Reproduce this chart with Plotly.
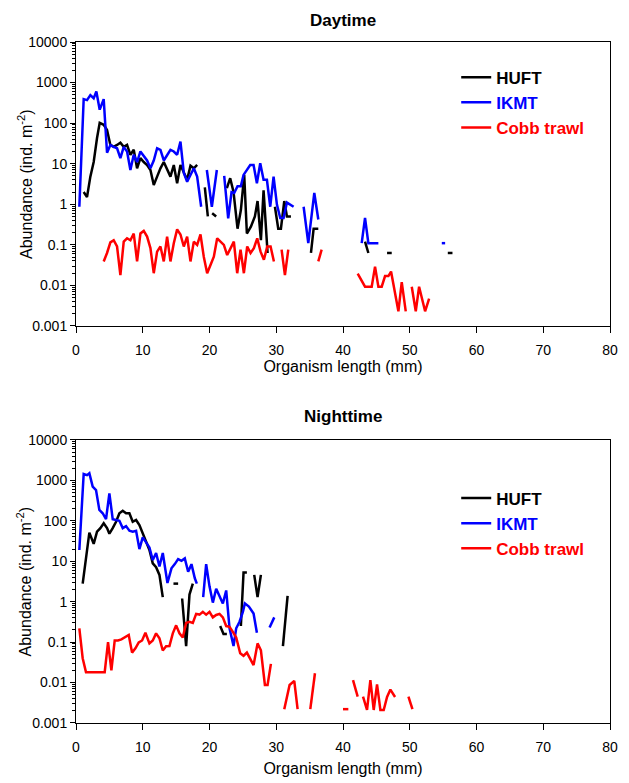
import plotly.graph_objects as go

# ---------------- Daytime data (length mm, abundance ind. m-2); None = gap ----------------
day_huft_x = [1.15, 1.65, 2.15, 2.65, 3.15, 3.55, 4.15, 4.65, 5.15, 5.65, 6.15, 6.65, 7.15, 7.65, 8.15, 8.65,
              9.15, 9.65, 10.15, 10.65, 11.15, 11.65, 12.15, 12.65, 13.15, 13.65, 14.15, 14.65, 15.15, 15.65,
              16.15, 16.65, 17.15, 17.65, 18.15, 18.7,
              19.3, 19.75, 20.1,
              20.4, 21.0, 21.6,
              22.6, 23.1, 23.6, 24.2, 24.7, 25.2, 25.6, 26.2, 26.8, 27.2, 27.7, 28.1, 28.7, 29.2,
              29.8, 30.3, 30.7, 31.2, 31.6, 32.2, 32.7,
              35.2, 35.6, 36.3, 36.8,
              43.3, 43.8, 44.3,
              46.6, 47.3, 47.8,
              55.7, 56.4]
day_huft_y = [2.0, 1.5, 4.8, 11, 43, 102, 91, 68, 29, 26, 29, 33, 26, 29, 16.6, 22,
              7.7, 13.7, 11, 9.3, 7, 3.0, 4.8, 7.7, 11, 7, 4.8, 9.3, 3.3, 9.3,
              5.9, 4.0, 8.9, 7.7, 9.3, None,
              2.6, 0.5, None,
              0.6, 0.5, None,
              2.5, 4.4, 2.0, 0.25, 0.72, 5.3, 0.19, 0.28, 0.5, 1.2, 0.13, 2.2, 0.063, None,
              0.87, 0.25, 0.25, 1.2, 0.5, 0.5, None,
              0.063, 0.25, 0.25, None,
              0.12, 0.063, None,
              0.063, 0.063, None,
              0.063, 0.063]

day_ikmt_x = [0.5, 1.15, 1.65, 2.15, 2.65, 3.05, 3.55, 4.15, 4.65, 5.15, 5.65, 6.15, 6.65, 7.15, 7.65, 8.15,
              8.65, 9.15, 9.65, 10.15, 10.65, 11.15, 11.65, 12.15, 12.65, 13.15, 13.65, 14.15, 14.65, 15.15,
              15.65, 16.15, 16.65, 17.15, 17.65, 18.15, 18.75, 19.2,
              19.6, 20.35, 21.1, 21.7,
              22.2, 22.8, 23.3, 23.7, 24.2, 24.7, 25.1, 25.6, 26.1, 26.6, 27.1, 27.6, 28.1, 28.6, 29.1, 29.6,
              30.1, 30.6, 31.1, 31.6, 32.1, 32.6, 33.3,
              34.1, 34.8, 35.7, 36.3, 36.8,
              42.8, 43.3, 43.8, 44.3, 44.8, 45.3, 45.9,
              54.8, 55.3]
day_ikmt_y = [0.87, 390, 370, 490, 410, 600, 215, 390, 18.6, 29, 26, 24, 13.7, 26, 20, 7,
              16.6, 11, 20, 15, 12, 7.7, 12, 24, 22, 12, 16.6, 22, 20, 16.6,
              35, 5.9, 3.6, 5.3, 7.7, 4.8, 0.87, None,
              7, 0.87, 7, None,
              5, 0.45, 2.0, 1.9, 2.8, 2.8, 5.3, 7, 9.3, 9.3, 3.3, 10.3, 4, 4, 0.87, 4.8,
              0.98, 0.46, 0.46, 1.1, 0.98, 0.87, None,
              0.87, 0.11, 1.9, 0.42, None,
              0.11, 0.46, 0.11, 0.11, 0.11, 0.11, None,
              0.11, 0.11]

day_cobb_x = [4.15, 4.65, 5.15, 5.65, 6.15, 6.65, 7.15, 7.65, 8.15, 8.65, 9.15, 9.65, 10.15, 10.65, 11.15,
              11.65, 12.15, 12.65, 13.15, 13.65, 14.15, 14.65, 15.15, 15.65, 16.15, 16.65, 17.15, 17.65,
              18.15, 18.65, 19.15, 19.65, 20.15, 20.65, 21.15, 21.65, 22.15, 22.65, 23.15, 23.65, 24.15,
              24.65, 25.15, 25.65, 26.15, 26.65, 27.15, 27.65, 28.15, 28.65, 29.15, 29.65, 30.2,
              30.8, 31.3, 31.8, 32.3,
              36.3, 36.8, 37.3,
              42.2, 42.8, 43.3, 43.8, 44.3, 44.8, 45.3, 45.8, 46.3, 46.8, 47.2, 48.3, 48.8, 49.4, 49.9,
              50.3, 50.9, 51.4, 52.3, 52.9]
day_cobb_y = [0.039, 0.063, 0.115, 0.13, 0.091, 0.018, 0.12, 0.145, 0.13, 0.19, 0.039, 0.19, 0.22, 0.16, 0.083,
              0.02, 0.068, 0.091, 0.039, 0.16, 0.039, 0.11, 0.24, 0.18, 0.091, 0.16, 0.039, 0.12,
              0.1, 0.18, 0.05, 0.02, 0.032, 0.051, 0.145, 0.12, 0.1, 0.056, 0.083, 0.12, 0.02,
              0.076, 0.02, 0.091, 0.063, 0.083, 0.145, 0.068, 0.043, 0.091, 0.091, 0.039, None,
              0.076, 0.018, 0.076, None,
              0.039, 0.076, None,
              0.0195, 0.0126, 0.0093, 0.0093, 0.0093, 0.029, 0.0093, 0.0093, 0.017, 0.017, 0.022, 0.0023, 0.012, 0.0023, None,
              0.0093, 0.0023, 0.0093, 0.0023, 0.0047]

# ---------------- Nighttime data ----------------
night_huft_x = [1.0, 2.0, 2.65, 3.15, 3.65, 4.15, 4.65, 5.0, 5.5, 6.0, 6.5, 7.0, 7.5, 8.0, 8.5, 9.0, 9.5,
                10.0, 10.5, 11.0, 11.5, 12.0, 12.5, 13.0, 13.8,
                14.6, 15.3, 15.6,
                15.9, 16.5, 17.0, 17.5, 18.0,
                21.6, 22.1, 22.6, 23.1,
                24.7, 25.1, 25.6, 26.1,
                26.7, 27.2, 27.7, 28.3,
                31.0, 31.7]
night_huft_y = [2.8, 51, 27, 54, 66, 87, 66, 48, 66, 95, 154, 178, 154, 154, 95, 105, 79,
                49, 30, 19, 8.9, 7.1, 4.6, 1.3, None,
                2.8, 2.8, None,
                1.2, 0.08, 1.5, 2.8, None,
                0.25, 0.16, 0.16, None,
                0.25, 5.3, 5.3, None,
                4.6, 1.3, 4.6, None,
                0.08, 1.4]

night_ikmt_x = [0.5, 1.15, 1.65, 2.0, 2.5, 3.0, 3.5, 4.0, 4.5, 5.0, 5.5, 6.0, 6.5, 7.0, 7.5, 8.0, 8.5, 9.0,
                9.5, 10.0, 10.5, 11.0, 11.5, 12.0, 12.5, 13.0, 13.7, 14.3, 14.8, 15.3, 15.8, 16.3, 16.8,
                17.3, 17.8, 18.1, 18.6,
                19.05, 19.5, 20.0, 20.5, 21.0, 21.5, 22.0, 22.5, 23.0, 23.6, 24.0, 24.5, 25.0, 25.3, 25.9,
                26.6, 27.1, 27.8,
                29.0, 29.7]
night_ikmt_y = [19, 1440, 1350, 1500, 700, 575, 186, 154, 110, 480, 110, 105, 100, 66, 74, 57, 54, 57,
                20, 39, 30, 22, 10.7, 16, 7.4, 16, 2.9, 6.7, 8.5, 11.3, 10.3, 11.8, 5.5,
                8.5, 3.8, 2.8, None,
                1.3, 8.5, 2.4, 0.95, 2.1, 1.3, 0.9, 1.9, 0.22, 0.08, 0.22, 0.32, 0.56, 0.91, 0.76,
                0.51, 0.17, None,
                0.23, 0.41]

night_cobb_x = [0.5, 1.0, 1.5, 2.0, 2.5, 3.0, 3.5, 4.3, 4.8, 5.3, 5.8, 6.3, 6.8, 7.3, 7.9, 8.4, 8.9, 9.4,
                9.9, 10.4, 11.0, 11.5, 12.0, 12.5, 13.0, 13.5, 14.0, 14.5, 15.0, 15.5, 16.0, 16.5, 17.0,
                17.5, 18.0, 18.5, 19.0, 19.5, 20.0, 20.5, 21.0, 21.5, 22.0, 22.5, 23.0, 23.5, 24.0, 24.6,
                25.1, 25.6, 26.1, 26.6, 27.2, 27.7, 28.3, 28.7, 29.2, 30.0,
                31.2, 32.0, 32.7, 33.2, 34.0,
                35.1, 35.8, 36.5,
                40.0, 40.8, 41.1,
                41.5, 42.2, 42.6,
                43.0, 43.6, 44.1, 44.6, 45.1, 45.6, 46.1, 46.6, 47.1, 47.8, 48.8,
                49.8, 50.4]
night_cobb_y = [0.22, 0.04, 0.018, 0.018, 0.018, 0.018, 0.018, 0.018, 0.10, 0.02, 0.11, 0.11, 0.117, 0.13, 0.15,
                0.055, 0.07, 0.098, 0.11, 0.17, 0.093, 0.11, 0.165, 0.125, 0.062, 0.079, 0.08, 0.165, 0.26,
                0.165, 0.13, 0.30, 0.32, 0.30, 0.5, 0.48, 0.56, 0.48, 0.56, 0.41, 0.47, 0.5, 0.41, 0.25,
                0.24, 0.18, 0.13, 0.053, 0.046, 0.055, 0.04, 0.027, 0.093, 0.063, 0.0087, 0.0087, 0.029, None,
                0.0022, 0.0087, 0.011, 0.0022, None,
                0.0022, 0.017, None,
                0.0022, 0.0022, None,
                0.0115, 0.0045, None,
                0.0045, 0.0021, 0.0115, 0.0021, 0.009, 0.0021, 0.0021, 0.0044, 0.0067, 0.0044, None,
                0.0045, 0.0022]

series_names = ["HUFT", "IKMT", "Cobb trawl"]
series_colors = ["#000000", "#0000FF", "#FF0000"]
y_tick_vals = [0.001, 0.01, 0.1, 1, 10, 100, 1000, 10000]
y_tick_text = ["0.001", "0.01", "0.1", "1", "10", "100", "1000", "10000"]

FONT = "Liberation Sans, Arial, sans-serif"

fig = go.Figure()

panels = [
    ("x", "y", "legend", [(day_huft_x, day_huft_y), (day_ikmt_x, day_ikmt_y), (day_cobb_x, day_cobb_y)]),
    ("x2", "y2", "legend2", [(night_huft_x, night_huft_y), (night_ikmt_x, night_ikmt_y), (night_cobb_x, night_cobb_y)]),
]
for xa, ya, lg, data in panels:
    for (xs, ys), name, col in zip(data, series_names, series_colors):
        fig.add_trace(go.Scatter(
            x=xs, y=ys, mode="lines", xaxis=xa, yaxis=ya, legend=lg,
            name=f"<b><span style='color:{col}'>{name}</span></b>",
            line=dict(color=col, width=2.5), connectgaps=False,
        ))

top_dom = [0.583, 1.0]
bot_dom = [0.0, 0.4156]

def xaxis_cfg(anchor, standoff):
    return dict(
        anchor=anchor, domain=[0, 1], range=[0, 80], dtick=10, tick0=0, automargin=False,
        showline=True, linecolor="black", linewidth=1, mirror=True,
        ticks="outside", ticklen=6, tickcolor="black", showgrid=False, zeroline=False,
        ticklabelstandoff=5,
        tickfont=dict(family=FONT, size=14, color="black"),
        title=dict(text="Organism length (mm)", font=dict(family=FONT, size=16, color="black"), standoff=standoff),
    )

def yaxis_cfg(anchor, domain):
    return dict(
        anchor=anchor, domain=domain, type="log", range=[-3, 4], automargin=False,
        tickmode="array", tickvals=y_tick_vals, ticktext=y_tick_text,
        showline=True, linecolor="black", linewidth=1, mirror=True,
        ticks="outside", ticklen=5, tickcolor="black", showgrid=False, zeroline=False,
        minor=dict(ticks="outside", ticklen=3, tickcolor="black", dtick="D1", showgrid=False),
        tickfont=dict(family=FONT, size=14, color="black"),
    )

ytitle_x = (25 - 76) / 534

fig.update_layout(
    width=629, height=783,
    margin=dict(l=76, r=19, t=42, b=60),
    paper_bgcolor="white", plot_bgcolor="white",
    font=dict(family=FONT, size=12, color="black"),
    xaxis=xaxis_cfg("y", 4),
    yaxis=yaxis_cfg("x", top_dom),
    xaxis2=xaxis_cfg("y2", 9),
    yaxis2=yaxis_cfg("x2", bot_dom),
    legend=dict(x=0.712, y=0.974, xanchor="left", yanchor="top", bgcolor="rgba(0,0,0,0)",
                font=dict(family=FONT, size=17), tracegroupgap=0, itemwidth=30),
    legend2=dict(x=0.712, y=0.356, xanchor="left", yanchor="top", bgcolor="rgba(0,0,0,0)",
                 font=dict(family=FONT, size=17), tracegroupgap=0, itemwidth=30),
    annotations=[
        dict(text="<b>Daytime</b>", x=0.5, y=1.0, xref="paper", yref="paper", xanchor="center",
             yanchor="bottom", yshift=10, showarrow=False, font=dict(family=FONT, size=17, color="black")),
        dict(text="<b>Nighttime</b>", x=0.5, y=bot_dom[1], xref="paper", yref="paper", xanchor="center",
             yanchor="bottom", yshift=12, showarrow=False, font=dict(family=FONT, size=17, color="black")),
        dict(text="Abundance (ind. m<sup>-2</sup>)", x=ytitle_x, y=sum(top_dom) / 2, xref="paper", yref="paper",
             xanchor="center", yanchor="middle", textangle=-90, showarrow=False,
             font=dict(family=FONT, size=16, color="black")),
        dict(text="Abundance (ind. m<sup>-2</sup>)", x=ytitle_x, y=sum(bot_dom) / 2, xref="paper", yref="paper",
             xanchor="center", yanchor="middle", textangle=-90, showarrow=False,
             font=dict(family=FONT, size=16, color="black")),
    ],
)

fig.write_html("out.html")
